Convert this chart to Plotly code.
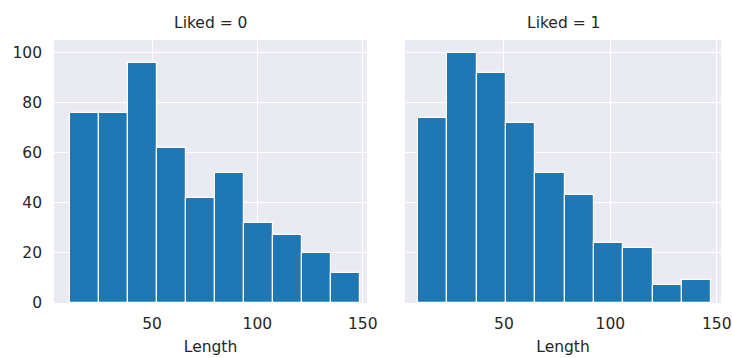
import plotly.graph_objects as go

# Data (histogram of Length by Liked)
panel_titles = ["Liked = 0", "Liked = 1"]
bin_start = [11.0, 9.5]
bin_width = [13.76, 13.8]
counts_liked0 = [76, 76, 96, 62, 42, 52, 32, 27, 20, 12]
counts_liked1 = [74, 100, 92, 72, 52, 43, 24, 22, 7, 9]
y_ticks = [0, 20, 40, 60, 80, 100]
x_ticks = [50, 100, 150]
x_title = "Length"

W, H = 732, 358
BLUE = "#1f77b4"
BG = "#EAEAF2"
TXT = "#262626"
FONT = "DejaVu Sans"
FS = 15.5

fig = go.Figure()
all_counts = [counts_liked0, counts_liked1]
for i, counts in enumerate(all_counts):
    centers = [bin_start[i] + bin_width[i] * (k + 0.5) for k in range(len(counts))]
    fig.add_trace(go.Bar(
        x=centers, y=counts, width=bin_width[i],
        marker=dict(color=BLUE, line=dict(color="white", width=1.2)),
        xaxis="x" if i == 0 else "x2", yaxis="y" if i == 0 else "y2",
        showlegend=False, hoverinfo="x+y",
    ))

def px_x(v):
    return v / W

def px_y(v):
    return 1 - v / H

top = px_y(40)
bot = px_y(303)
d1 = [px_x(54), px_x(367)]
d2 = [px_x(405), px_x(721)]

common_x = dict(range=[3.5, 152], tickvals=x_ticks, showgrid=True, gridcolor="white",
                gridwidth=1.2, zeroline=False, showline=False, ticks="", automargin=False,
                tickfont=dict(family=FONT, size=FS, color=TXT), ticklabelstandoff=9,
                title=dict(text=x_title, font=dict(family=FONT, size=FS, color=TXT), standoff=9))
common_y = dict(range=[0, 105], tickvals=y_ticks, showgrid=True, gridcolor="white",
                gridwidth=1.2, zeroline=False, showline=False, ticks="", automargin=False,
                tickfont=dict(family=FONT, size=FS, color=TXT), ticklabelstandoff=11)

fig.update_layout(
    width=W, height=H,
    margin=dict(l=0, r=0, t=0, b=0),
    paper_bgcolor="white", plot_bgcolor=BG,
    bargap=0,
    xaxis=dict(domain=d1, anchor="y", **common_x),
    xaxis2=dict(domain=d2, anchor="y2", **common_x),
    yaxis=dict(domain=[bot, top], anchor="x", **common_y),
    yaxis2=dict(domain=[bot, top], anchor="x2", showticklabels=False, **common_y),
    annotations=[
        dict(text=panel_titles[0], x=(d1[0] + d1[1]) / 2, y=px_y(23), xref="paper", yref="paper",
             showarrow=False, xanchor="center", yanchor="middle",
             font=dict(family=FONT, size=FS, color=TXT)),
        dict(text=panel_titles[1], x=(d2[0] + d2[1]) / 2, y=px_y(23), xref="paper", yref="paper",
             showarrow=False, xanchor="center", yanchor="middle",
             font=dict(family=FONT, size=FS, color=TXT)),
    ],
)

fig.write_html(
    "out.html",
    config={"displayModeBar": False},
    post_script="document.body.style.margin='0';document.body.style.overflow='hidden';",
)
